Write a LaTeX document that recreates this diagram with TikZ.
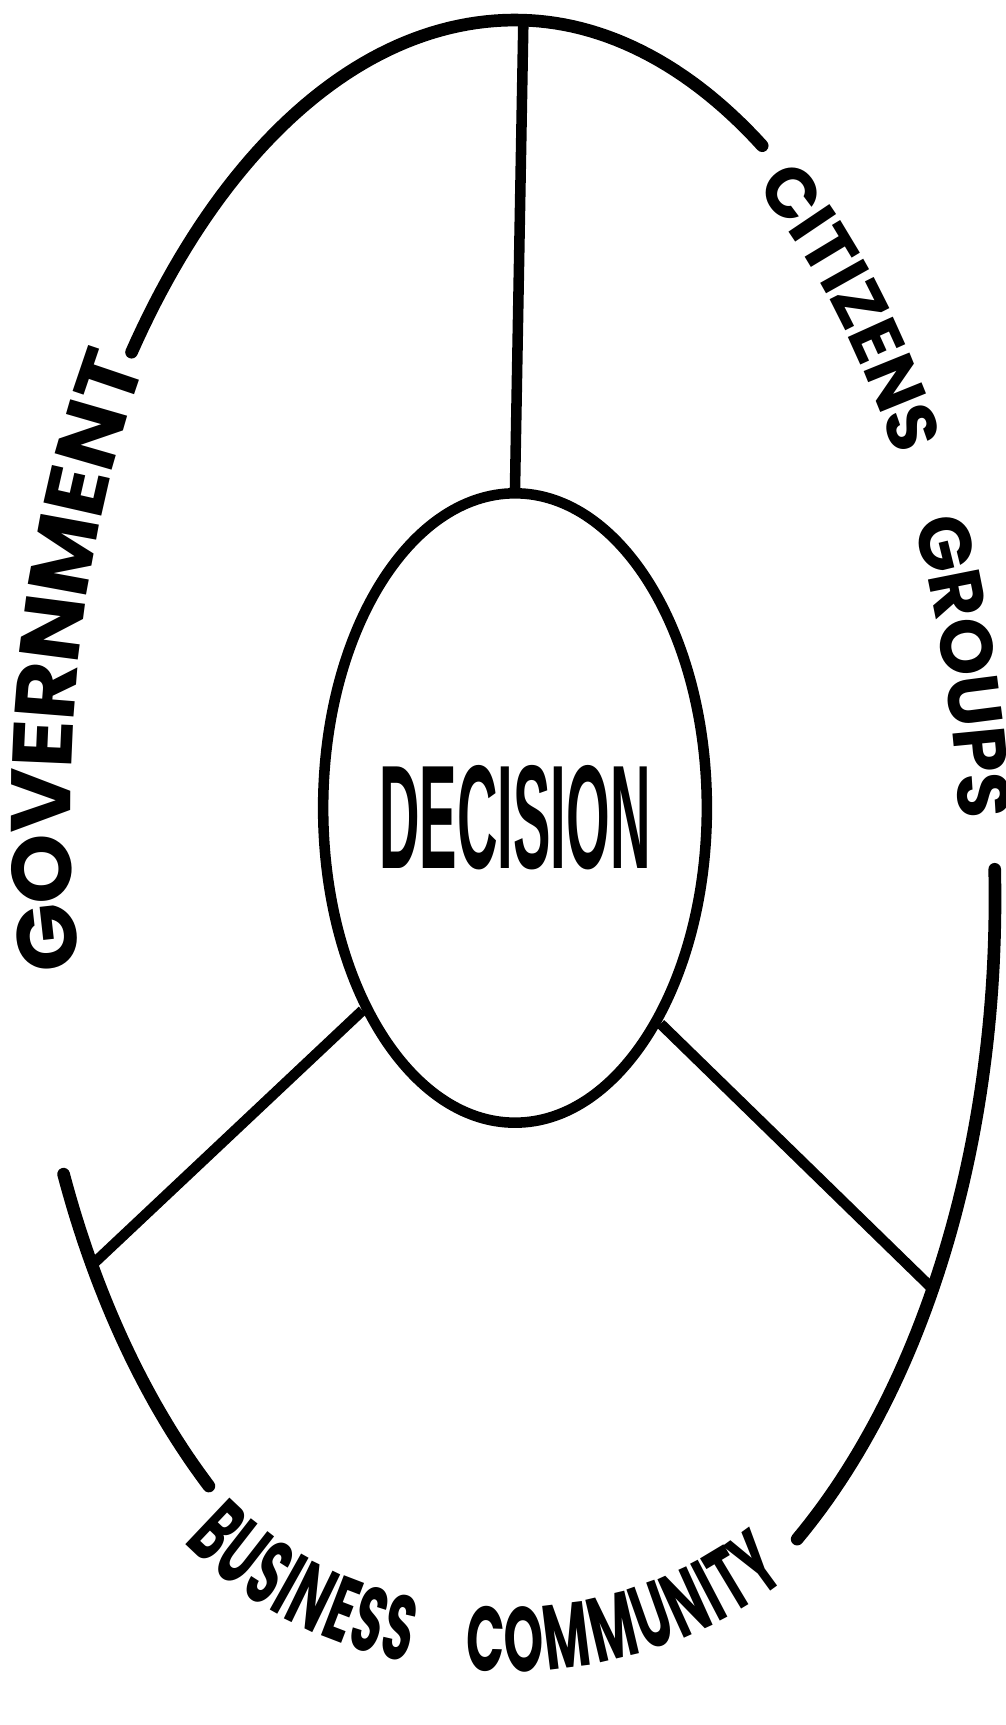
\documentclass[tikz,border=0pt]{standalone}
\usepackage{fontspec}
\usepackage{graphicx}
\setmainfont{Liberation Sans}
\newfontfamily\ringfont{Poppins}
\newfontfamily\wideringfont{Poppins}[FakeStretch=1.06]
\newfontfamily\narrowringfont{Poppins}[FakeStretch=0.55]
\usetikzlibrary{shapes.geometric,decorations.text}
\newcommand\govtext{\wideringfont\bfseries\fontsize{24}{24}\selectfont}
\newcommand\sidetext{\ringfont\bfseries\fontsize{20}{20}\selectfont}
\newcommand\grouptext{\ringfont\bfseries\fontsize{21}{21}\selectfont}
\newcommand\bottomtext{\narrowringfont\bfseries\fontsize{26}{26}\selectfont}

\begin{document}
\begin{tikzpicture}[x=0.01cm, y=-0.01cm,
  declare function={ringx(\t,\d)=515+(ifthenelse(cos(\t)<0,490-ifthenelse(sin(\t)>0,18*sin(\t),0),480)+\d)*cos(\t);
                    ringy(\t,\d)=900+(ifthenelse(sin(\t)<0,880,ifthenelse(cos(\t)<0,765,790))+\d)*sin(\t);
                    lowx(\t)=505+380*cos(\t);
                    lowy(\t)=1325+315*sin(\t);}]
\tikzset{rim/.style={line width=3.6pt, line cap=round},
  spoke/.style={line width=3pt},
  hub/.style={draw, ellipse, line width=3pt, minimum width=3.6cm, minimum height=6.29cm, inner sep=0pt},
  ringlabel/.style 2 args={decorate, decoration={text along path, text align=center, raise=#1, text={#2}}}}
\useasboundingbox (0,0) rectangle (1005,1725);
\node[hub] (decision) at (515,808) {\raisebox{-0.6cm}[0pt][0pt]{\scalebox{0.38}[1]{\fontsize{42}{42}\selectfont\bfseries DECISION}}};
\coordinate (topjoin) at ({ringx(271,0)},{ringy(271,0)});
\coordinate (leftjoin) at ({ringx(151.5,0)},{ringy(151.5,0)});
\coordinate (rightjoin) at ({ringx(29.5,0)},{ringy(29.5,0)});
\draw[rim] plot[domain=218.5:301, samples=80, variable=\t] ({ringx(\t,0)},{ringy(\t,0)});
\draw[rim] plot[domain=-2:54, samples=60, variable=\t] ({ringx(\t,0)},{ringy(\t,0)});
\draw[rim] plot[domain=130:159, samples=40, variable=\t] ({ringx(\t,0)},{ringy(\t,0)});
\draw[spoke] (decision.north) -- (topjoin);
\draw[spoke] (decision.233) -- (leftjoin);
\draw[spoke] (decision.304) -- (rightjoin);
\path[ringlabel={-8.4pt}{|\govtext|GOVERNMENT}] plot[domain=166:226, samples=50, variable=\t] ({ringx(\t,-22+0.8*(\t-175))},{ringy(\t,-22+0.8*(\t-175))});
\path[ringlabel={-7pt}{|\sidetext|CITIZENS}] plot[domain=295:335, samples=40, variable=\t] ({ringx(\t,-8)},{ringy(\t,-8)});
\path[ringlabel={-7.35pt}{|\grouptext|GROUPS}] plot[domain=327.5:360.5, samples=40, variable=\t] ({ringx(\t,-8)},{ringy(\t,-8)});
\path[ringlabel={-9.1pt}{|\bottomtext|BUSINESS}] plot[domain=160:88, samples=40, variable=\t] ({lowx(\t)},{lowy(\t)});
\path[ringlabel={-9.1pt}{|\bottomtext|COMMUNITY}] plot[domain=106:35, samples=40, variable=\t] ({lowx(\t)},{lowy(\t)});
\end{tikzpicture}
\end{document}
